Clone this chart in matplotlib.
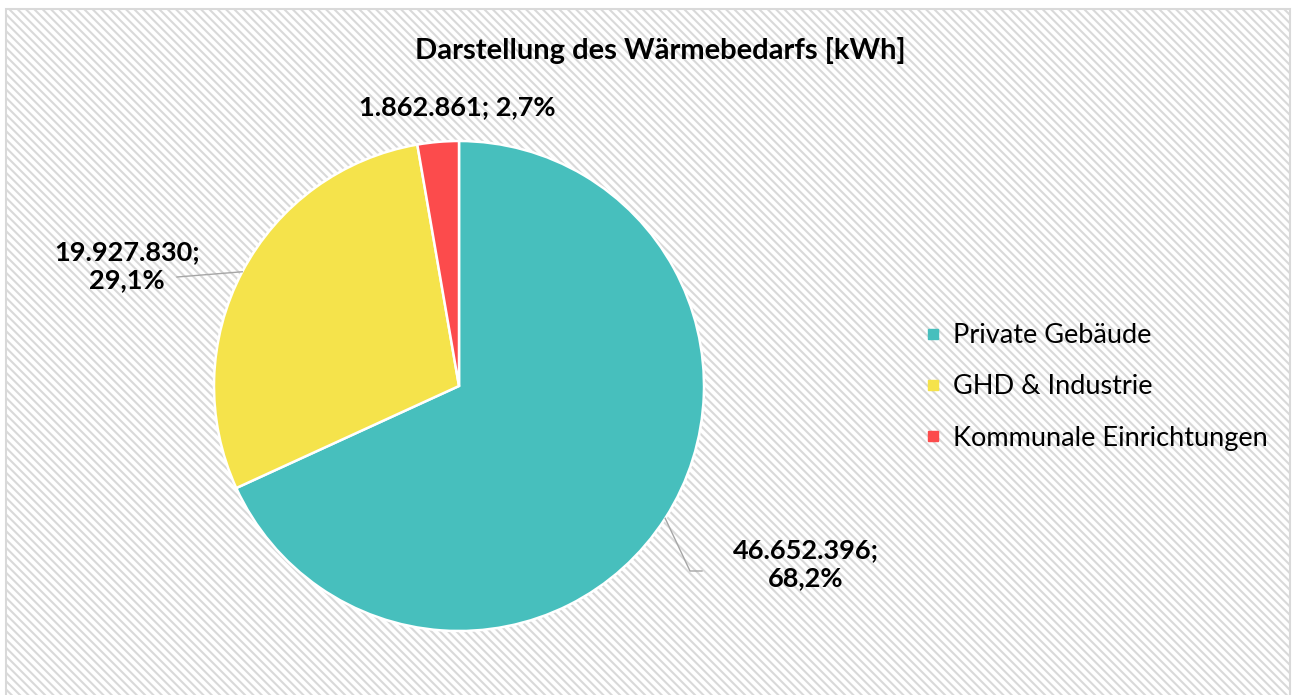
import matplotlib.pyplot as plt
import numpy as np
from matplotlib.patches import Rectangle
from matplotlib.lines import Line2D

categories = ['Private Gebäude', 'GHD & Industrie', 'Kommunale Einrichtungen']
values = [46652396, 19927830, 1862861]
label_texts = ['46.652.396;\n68,2%', '19.927.830;\n29,1%', '1.862.861; 2,7%']
colours = ['#47BFBD', '#F5E34B', '#FC4B4C']

W, H = 1292, 695
plt.rcParams['font.family'] = ['Lato', 'DejaVu Sans']
plt.rcParams['hatch.linewidth'] = 1.5
plt.rcParams['hatch.color'] = '#ebebeb'

fig = plt.figure(figsize=(W / 100, H / 100), dpi=100)
ax = fig.add_axes([0, 0, 1, 1])

# hatched chart background + thin border
bg = Rectangle((6, -10), 1284, H - 9 + 10, facecolor='white', edgecolor='#d9d9d9',
               hatch='\\\\\\\\', linewidth=1.5, zorder=0)
ax.add_patch(bg)

cx, cy, r = 459, H - 386, 245
wedges, _ = ax.pie(values, colors=colours, startangle=90, counterclock=False,
                   center=(cx, cy), radius=r,
                   wedgeprops=dict(edgecolor='white', linewidth=1.8))
ax.set_xlim(0, W)
ax.set_ylim(0, H)
ax.set_aspect('auto')
ax.axis('off')

# midpoints of wedges for leader lines
mids = []
for w in wedges:
    a = np.deg2rad((w.theta1 + w.theta2) / 2)
    mids.append((cx + r * np.cos(a), cy + r * np.sin(a)))

lbl = dict(fontsize=19.5, fontweight='bold', ha='center', va='center',
           multialignment='center', linespacing=1.2, zorder=5)
ax.text(806, H - 564, label_texts[0], **lbl)
ax.text(127, H - 266, label_texts[1], **lbl)
ax.text(457, H - 107, label_texts[2], **lbl)

grey = '#a6a6a6'
m0 = mids[0]
ax.plot([m0[0], 690, 702], [m0[1], H - 571, H - 571], color=grey, lw=1.0, zorder=4)
m1 = mids[1]
ax.plot([m1[0], 177], [m1[1], H - 277], color=grey, lw=1.0, zorder=4)

ax.text(660, H - 50, 'Darstellung des Wärmebedarfs [kWh]', fontsize=21,
        fontweight='bold', ha='center', va='center')

handles = [Line2D([], [], marker='s', linestyle='none', markersize=7.5,
                  markerfacecolor=c, markeredgecolor=c) for c in colours]
ax.legend(handles, categories, loc='center left', bbox_to_anchor=(911, H - 387),
          bbox_transform=ax.transData, frameon=False, fontsize=19.5,
          handlelength=0.6, handletextpad=0.45, labelspacing=0.97, borderpad=0)

fig.savefig('out.png', dpi=100)
